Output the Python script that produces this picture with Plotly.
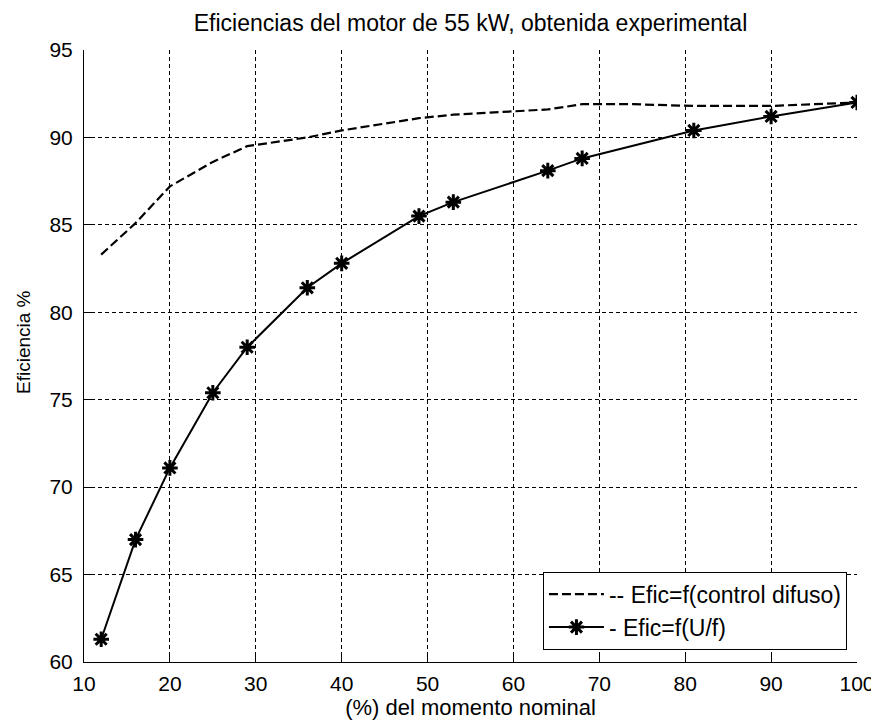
import plotly.graph_objects as go

# Data
x_difuso = [12, 16, 20, 25, 29, 36, 40, 49, 53, 64, 68, 74, 81, 90, 100]
y_difuso = [83.3, 85.1, 87.2, 88.6, 89.5, 90.0, 90.4, 91.1, 91.3, 91.6, 91.9, 91.9, 91.8, 91.8, 92.0]

x_uf = [12, 16, 20, 25, 29, 36, 40, 49, 53, 64, 68, 81, 90, 100]
y_uf = [61.3, 67.0, 71.1, 75.4, 78.0, 81.4, 82.8, 85.5, 86.3, 88.1, 88.8, 90.4, 91.2, 92.0]

x_ticks = [10, 20, 30, 40, 50, 60, 70, 80, 90, 100]
y_ticks = [60, 65, 70, 75, 80, 85, 90, 95]

title_text = "Eficiencias del motor de 55 kW, obtenida experimental"
x_title = "(%) del momento nominal"
y_title = "Eficiencia %"
name_difuso = "-- Efic=f(control difuso)"
name_uf = "- Efic=f(U/f)"

FONT = "Liberation Sans, Arial, sans-serif"
W, H = 879, 725
L, R, T, B = 76, 30, 42, 71

fig = go.Figure()
fig.add_trace(go.Scatter(
    x=x_difuso, y=y_difuso, mode="lines", name=name_difuso,
    line=dict(color="black", width=2.2, dash="9px,4px"),
))
fig.add_trace(go.Scatter(
    x=x_uf, y=y_uf, mode="lines+markers", name=name_uf,
    line=dict(color="black", width=2),
    marker=dict(symbol="asterisk-open", size=13, color="black",
                line=dict(color="black", width=3)),
))

grid = dict(showgrid=True, gridcolor="black", gridwidth=1, griddash="4px,3px")

fig.update_layout(
    width=W, height=H,
    paper_bgcolor="white", plot_bgcolor="white",
    margin=dict(l=L, r=R, t=T, b=B, autoexpand=False),
    font=dict(family=FONT, size=16, color="black"),
    title=dict(text=title_text, x=(L + (W - R)) / 2 / W, xanchor="center",
               y=1 - 15 / H, yanchor="middle", font=dict(size=23)),
    showlegend=True,
    legend=dict(x=0.987, y=0.02, xanchor="right", yanchor="bottom",
                bgcolor="white", bordercolor="black", borderwidth=1,
                font=dict(size=23), tracegroupgap=0, itemwidth=55),
    annotations=[dict(text=y_title, xref="paper", yref="paper",
                      x=-(L - 15) / (W - L - R), y=(H - B - 334) / (H - T - B),
                      xanchor="center", yanchor="middle", textangle=-90,
                      showarrow=False, font=dict(size=19))],
)
fig.update_xaxes(range=[10, 100], tickvals=x_ticks, ticks="inside", ticklen=7,
                 tickcolor="black", showline=True, linecolor="black", linewidth=1,
                 mirror=False, zeroline=False, automargin=False,
                 ticklabelstandoff=3,
                 title=dict(text=x_title, standoff=4, font=dict(size=22)),
                 tickfont=dict(size=21), **grid)
fig.update_yaxes(range=[60, 95], tickvals=y_ticks, ticks="inside", ticklen=7,
                 tickcolor="black", showline=True, linecolor="black", linewidth=1,
                 mirror=False, zeroline=False, automargin=False,
                 ticklabelstandoff=6,
                 tickfont=dict(size=21), **grid)

fig.write_html("out.html")
